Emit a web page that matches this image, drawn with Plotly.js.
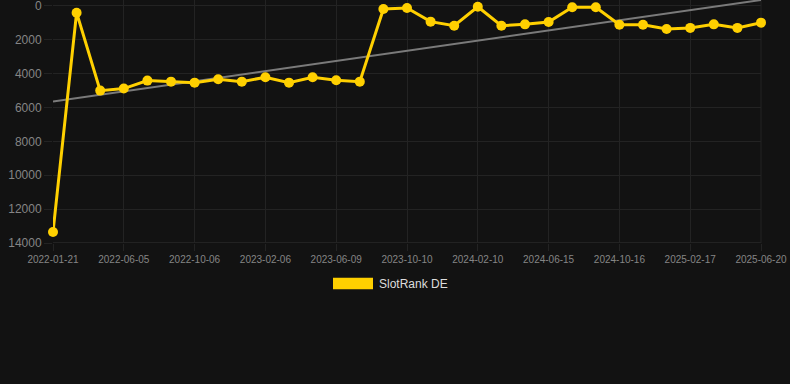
<!DOCTYPE html>
<html>
<head>
<meta charset="utf-8">
<script src="https://cdn.plot.ly/plotly-3.0.1.min.js"></script>
<style>
html,body{margin:0;padding:0;background:#121212;}
#chart{width:790px;height:384px;}
</style>
</head>
<body>
<div id="chart"></div>
<script>
var dates = ["2022-01-21","2022-03-07","2022-04-21","2022-06-05","2022-07-16","2022-08-26","2022-10-06","2022-11-16","2022-12-27","2023-02-06","2023-03-19","2023-04-29","2023-06-09","2023-07-20","2023-08-30","2023-10-10","2023-11-20","2023-12-31","2024-02-10","2024-03-22","2024-05-04","2024-06-15","2024-07-26","2024-09-05","2024-10-16","2024-11-26","2025-01-07","2025-02-17","2025-03-30","2025-05-10","2025-06-20"];
var ranks = [13350,412,5010,4890,4420,4480,4540,4340,4480,4220,4540,4220,4400,4480,190,135,940,1180,60,1180,1100,960,95,95,1120,1120,1370,1310,1100,1310,1000];
var trendX = ["2022-01-21","2025-06-20"];
var trendY = [5655,-336];
var tickLabels = ["2022-01-21","2022-06-05","2022-10-06","2023-02-06","2023-06-09","2023-10-10","2024-02-10","2024-06-15","2024-10-16","2025-02-17","2025-06-20"];
var yTicks = [0,2000,4000,6000,8000,10000,12000,14000];
var seriesName = "SlotRank DE";

var traces = [
  {x: trendX, y: trendY, type: 'scatter', mode: 'lines', line: {color: '#7a7a7a', width: 2}, hoverinfo: 'skip', showlegend: false, cliponaxis: true},
  {x: dates, y: ranks, type: 'scatter', mode: 'lines+markers', name: seriesName,
   line: {color: '#FFD000', width: 3}, marker: {color: '#FFD000', size: 10}, cliponaxis: false, showlegend: false}
];

var layout = {
  width: 790, height: 384,
  paper_bgcolor: '#121212', plot_bgcolor: '#121212',
  margin: {l: 53, r: 29, t: 0, b: 140.7},
  font: {family: 'Liberation Sans, Arial, sans-serif', color: '#888'},
  showlegend: false,
  xaxis: {
    type: 'category', categoryorder: 'array', categoryarray: dates,
    range: [0, dates.length - 1],
    tickmode: 'array', tickvals: tickLabels, ticktext: tickLabels,
    showgrid: true, gridcolor: '#232323', gridwidth: 1,
    ticks: 'outside', ticklen: 7, tickcolor: '#232323',
    tickfont: {size: 10, color: '#858585'},
    ticklabeloverflow: 'allow',
    showline: false, zeroline: false, tickangle: 0
  },
  yaxis: {
    range: [14000, -336],
    tickmode: 'array', tickvals: yTicks, ticktext: yTicks.map(String),
    showgrid: true, gridcolor: '#232323', gridwidth: 1,
    ticks: 'outside', ticklen: 8, tickcolor: '#232323',
    tickfont: {size: 12, color: '#858585'},
    ticklabeloverflow: 'allow',
    zeroline: false, showline: false
  },
  shapes: [
    {type: 'line', xref: 'paper', yref: 'y', x0: 0, x1: 1, y0: 14000, y1: 14000, line: {color: '#333', width: 1}, layer: 'below'},
    {type: 'line', xref: 'paper', yref: 'paper', x0: 1, x1: 1, y0: 0, y1: 1, line: {color: '#232323', width: 1}, layer: 'below'},
    {type: 'rect', xref: 'paper', yref: 'paper', x0: (333-53)/708, x1: (373-53)/708, y0: (384-140.7-289.5)/243.3, y1: (384-140.7-278)/243.3, fillcolor: '#FFD000', line: {width: 0}}
  ],
  annotations: [
    {xref: 'paper', yref: 'paper', x: (377-53)/708, y: (384-140.7-284)/243.3, xanchor: 'left', yanchor: 'middle', text: seriesName, showarrow: false, font: {size: 12, color: '#dddddd'}}
  ]
};

Plotly.newPlot('chart', traces, layout, {displayModeBar: false, staticPlot: true});
</script>
</body>
</html>
